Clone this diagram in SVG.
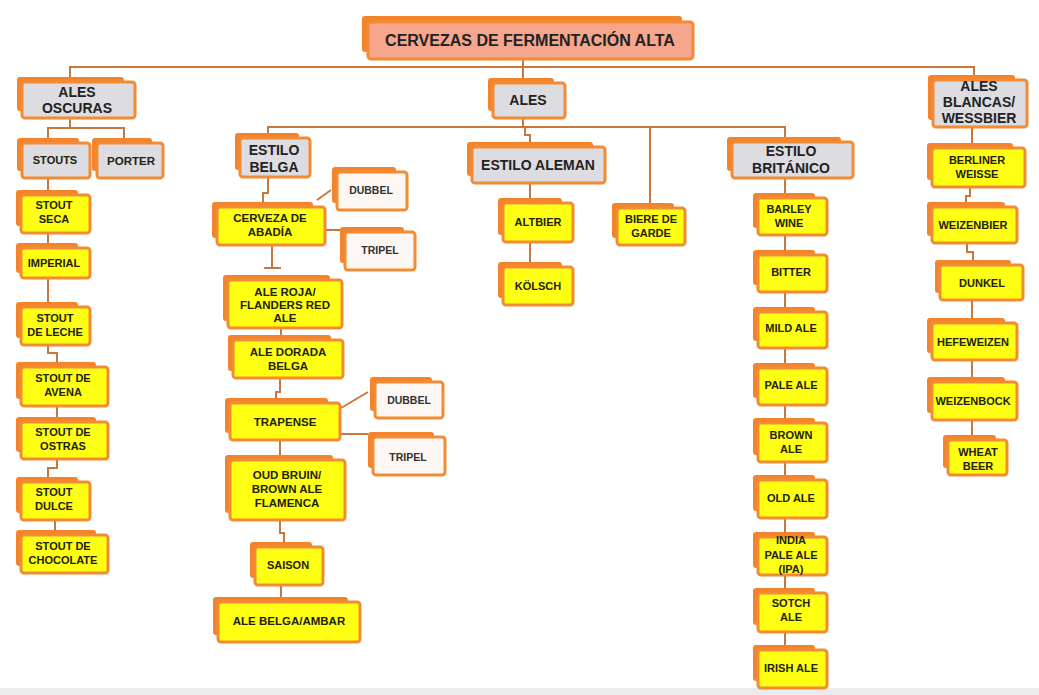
<svg xmlns="http://www.w3.org/2000/svg" width="1039" height="695" viewBox="0 0 1039 695">
<style>
.bk{fill:#f3842c}
.fr{stroke:#f28b33;stroke-width:3}
.y{fill:#ffff14}
.g{fill:#dcdce1}
.w{fill:#fcf7f2}
.ti{fill:#f5a68c}
text{font-family:"Liberation Sans",Arial,sans-serif;font-weight:bold;text-anchor:middle}
.ts{font-size:11px;fill:#22220a}
.tb{font-size:11.5px;fill:#22220a}
.tw{font-size:10.5px;fill:#333}
.tg{font-size:14px;fill:#222}
.tt{font-size:16px;fill:#222}
.c{fill:none;stroke:#c9773d;stroke-width:2}
</style>
<rect width="1039" height="695" fill="#ffffff"/>
<rect y="688" width="1039" height="7" fill="#ececec"/>
<g id="connectors" class="c">
<path d="M70,77V67H974V76M523,59V78"/>
<path d="M70,118V128M48,138V128H124V138"/>
<path d="M48,178V190M48,233V243M48,278V302M48,345V353H57V363M57,406V417M57,459V468H48V477M55,520V530"/>
<path d="M523,118V127M268,133V127H785V137M525,127V135H530V142M650,127V203"/>
<path d="M268,177V193H263V202M317,200L331,190M325,230H340M272,245V268M264,268H281M281,328V335M280,378V392H276V398M341,408L368,392M340,434H368M280,440V455M280,520V533H284V542M281,585V597"/>
<path d="M530,183V198M530,242V263"/>
<path d="M785,178V193M785,235V250M785,292V307M785,348V363M785,405V418M785,462V475M785,518V532M785,575V588M785,632V645"/>
<path d="M972,127V143M970,187V196H966V202M967,243V252H973V260M972,300V318M972,360V377M972,420V437"/>
</g>
<g id="title"><rect class="bk" x="362" y="16" width="320" height="36" rx="3"/><rect class="fr ti" x="368" y="22" width="325" height="37" rx="3"/><text class="tt" x="530" y="46">CERVEZAS DE FERMENTACIÓN ALTA</text></g>
<g id="ales-oscuras"><rect class="bk" x="17" y="77" width="107" height="34" rx="3"/><rect class="fr g" x="22" y="82" width="113" height="36" rx="3"/><text class="tg" x="77" y="97">ALES</text><text class="tg" x="77" y="113">OSCURAS</text></g>
<g id="stouts"><rect class="bk" x="17" y="138" width="62" height="33" rx="3"/><rect class="fr g" x="22" y="143" width="68" height="35" rx="3"/><text class="ts" x="55" y="164">STOUTS</text></g>
<g id="porter"><rect class="bk" x="92" y="138" width="60" height="33" rx="3"/><rect class="fr g" x="97" y="143" width="66" height="35" rx="3"/><text class="tb" x="131" y="165">PORTER</text></g>
<g id="stout-seca"><rect class="bk" x="16" y="190" width="62" height="36" rx="3"/><rect class="fr y" x="21" y="195" width="69" height="38" rx="3"/><text class="ts" x="54" y="209">STOUT</text><text class="ts" x="54" y="223">SECA</text></g>
<g id="imperial"><rect class="bk" x="16" y="243" width="62" height="30" rx="3"/><rect class="fr y" x="21" y="248" width="69" height="30" rx="3"/><text class="ts" x="54" y="267">IMPERIAL</text></g>
<g id="stout-leche"><rect class="bk" x="16" y="302" width="62" height="36" rx="3"/><rect class="fr y" x="21" y="307" width="69" height="38" rx="3"/><text class="ts" x="55" y="322">STOUT</text><text class="ts" x="55" y="336">DE LECHE</text></g>
<g id="stout-avena"><rect class="bk" x="16" y="362" width="80" height="37" rx="3"/><rect class="fr y" x="21" y="367" width="87" height="39" rx="3"/><text class="ts" x="63" y="382">STOUT DE</text><text class="ts" x="63" y="396">AVENA</text></g>
<g id="stout-ostras"><rect class="bk" x="16" y="417" width="80" height="35" rx="3"/><rect class="fr y" x="21" y="422" width="87" height="37" rx="3"/><text class="ts" x="63" y="436">STOUT DE</text><text class="ts" x="63" y="450">OSTRAS</text></g>
<g id="stout-dulce"><rect class="bk" x="16" y="477" width="62" height="36" rx="3"/><rect class="fr y" x="21" y="482" width="69" height="38" rx="3"/><text class="ts" x="54" y="496">STOUT</text><text class="ts" x="54" y="510">DULCE</text></g>
<g id="stout-chocolate"><rect class="bk" x="16" y="530" width="80" height="36" rx="3"/><rect class="fr y" x="21" y="535" width="87" height="38" rx="3"/><text class="ts" x="63" y="550">STOUT DE</text><text class="ts" x="63" y="564">CHOCOLATE</text></g>
<g id="ales"><rect class="bk" x="488" y="78" width="66" height="33" rx="3"/><rect class="fr g" x="493" y="83" width="72" height="35" rx="3"/><text class="tg" x="528" y="105">ALES</text></g>
<g id="estilo-belga"><rect class="bk" x="235" y="133" width="64" height="37" rx="3"/><rect class="fr g" x="240" y="138" width="70" height="39" rx="3"/><text class="tg" x="274" y="155">ESTILO</text><text class="tg" x="274" y="172">BELGA</text></g>
<g id="cerveza-abadia"><rect class="bk" x="212" y="202" width="101" height="36" rx="3"/><rect class="fr y" x="217" y="207" width="108" height="38" rx="3"/><text class="tb" x="270" y="222">CERVEZA DE</text><text class="tb" x="270" y="236">ABADÍA</text></g>
<g id="dubbel-1"><rect class="bk" x="332" y="167" width="64" height="36" rx="3"/><rect class="fr w" x="337" y="172" width="70" height="38" rx="3"/><text class="tw" x="371" y="194">DUBBEL</text></g>
<g id="tripel-1"><rect class="bk" x="340" y="227" width="64" height="36" rx="3"/><rect class="fr w" x="345" y="232" width="70" height="38" rx="3"/><text class="tw" x="380" y="254">TRIPEL</text></g>
<g id="ale-roja"><rect class="bk" x="223" y="275" width="107" height="46" rx="3"/><rect class="fr y" x="228" y="280" width="114" height="48" rx="3"/><text class="tb" x="285" y="296">ALE ROJA/</text><text class="tb" x="285" y="309">FLANDERS RED</text><text class="tb" x="285" y="322">ALE</text></g>
<g id="ale-dorada"><rect class="bk" x="228" y="335" width="103" height="36" rx="3"/><rect class="fr y" x="233" y="340" width="110" height="38" rx="3"/><text class="tb" x="288" y="356">ALE DORADA</text><text class="tb" x="288" y="370">BELGA</text></g>
<g id="trapense"><rect class="bk" x="225" y="398" width="103" height="35" rx="3"/><rect class="fr y" x="230" y="403" width="110" height="37" rx="3"/><text class="tb" x="285" y="426">TRAPENSE</text></g>
<g id="dubbel-2"><rect class="bk" x="370" y="377" width="62" height="34" rx="3"/><rect class="fr w" x="375" y="382" width="68" height="36" rx="3"/><text class="tw" x="409" y="404">DUBBEL</text></g>
<g id="tripel-2"><rect class="bk" x="368" y="432" width="66" height="36" rx="3"/><rect class="fr w" x="373" y="437" width="72" height="38" rx="3"/><text class="tw" x="408" y="461">TRIPEL</text></g>
<g id="oud-bruin"><rect class="bk" x="225" y="455" width="108" height="58" rx="3"/><rect class="fr y" x="230" y="460" width="115" height="60" rx="3"/><text class="tb" x="287" y="479">OUD BRUIN/</text><text class="tb" x="287" y="493">BROWN ALE</text><text class="tb" x="287" y="507">FLAMENCA</text></g>
<g id="saison"><rect class="bk" x="250" y="542" width="62" height="36" rx="3"/><rect class="fr y" x="255" y="547" width="68" height="38" rx="3"/><text class="ts" x="288" y="569">SAISON</text></g>
<g id="ale-belga-ambar"><rect class="bk" x="213" y="597" width="135" height="38" rx="3"/><rect class="fr y" x="218" y="602" width="142" height="40" rx="3"/><text class="tb" x="289" y="625">ALE BELGA/AMBAR</text></g>
<g id="estilo-aleman"><rect class="bk" x="467" y="142" width="126" height="34" rx="3"/><rect class="fr g" x="472" y="147" width="133" height="36" rx="3"/><text class="tg" x="538" y="170">ESTILO ALEMAN</text></g>
<g id="altbier"><rect class="bk" x="498" y="198" width="64" height="37" rx="3"/><rect class="fr y" x="503" y="203" width="70" height="39" rx="3"/><text class="ts" x="538" y="226">ALTBIER</text></g>
<g id="kolsch"><rect class="bk" x="498" y="262" width="64" height="36" rx="3"/><rect class="fr y" x="503" y="267" width="70" height="38" rx="3"/><text class="ts" x="538" y="290">KÖLSCH</text></g>
<g id="biere-de-garde"><rect class="bk" x="612" y="203" width="62" height="35" rx="3"/><rect class="fr y" x="617" y="208" width="68" height="37" rx="3"/><text class="ts" x="651" y="223">BIERE DE</text><text class="ts" x="651" y="237">GARDE</text></g>
<g id="estilo-britanico"><rect class="bk" x="727" y="137" width="114" height="34" rx="3"/><rect class="fr g" x="732" y="142" width="121" height="36" rx="3"/><text class="tg" x="791" y="156">ESTILO</text><text class="tg" x="791" y="173">BRITÁNICO</text></g>
<g id="barley-wine"><rect class="bk" x="753" y="193" width="62" height="35" rx="3"/><rect class="fr y" x="758" y="198" width="69" height="37" rx="3"/><text class="ts" x="789" y="213">BARLEY</text><text class="ts" x="789" y="227">WINE</text></g>
<g id="bitter"><rect class="bk" x="753" y="250" width="62" height="35" rx="3"/><rect class="fr y" x="758" y="255" width="69" height="37" rx="3"/><text class="ts" x="791" y="276">BITTER</text></g>
<g id="mild-ale"><rect class="bk" x="753" y="307" width="62" height="34" rx="3"/><rect class="fr y" x="758" y="312" width="69" height="36" rx="3"/><text class="ts" x="791" y="332">MILD ALE</text></g>
<g id="pale-ale"><rect class="bk" x="753" y="363" width="62" height="35" rx="3"/><rect class="fr y" x="758" y="368" width="69" height="37" rx="3"/><text class="ts" x="791" y="389">PALE ALE</text></g>
<g id="brown-ale"><rect class="bk" x="753" y="418" width="62" height="37" rx="3"/><rect class="fr y" x="758" y="423" width="69" height="39" rx="3"/><text class="ts" x="791" y="439">BROWN</text><text class="ts" x="791" y="453">ALE</text></g>
<g id="old-ale"><rect class="bk" x="753" y="475" width="62" height="36" rx="3"/><rect class="fr y" x="758" y="480" width="69" height="38" rx="3"/><text class="ts" x="791" y="502">OLD ALE</text></g>
<g id="ipa"><rect class="bk" x="753" y="532" width="62" height="36" rx="3"/><rect class="fr y" x="758" y="537" width="69" height="38" rx="3"/><text class="ts" x="791" y="544">INDIA</text><text class="ts" x="791" y="559">PALE ALE</text><text class="ts" x="791" y="573">(IPA)</text></g>
<g id="sotch-ale"><rect class="bk" x="753" y="588" width="62" height="37" rx="3"/><rect class="fr y" x="758" y="593" width="69" height="39" rx="3"/><text class="ts" x="791" y="607">SOTCH</text><text class="ts" x="791" y="621">ALE</text></g>
<g id="irish-ale"><rect class="bk" x="753" y="645" width="62" height="36" rx="3"/><rect class="fr y" x="758" y="650" width="69" height="38" rx="3"/><text class="ts" x="791" y="672">IRISH ALE</text></g>
<g id="ales-blancas"><rect class="bk" x="928" y="75" width="87" height="45" rx="3"/><rect class="fr g" x="933" y="80" width="94" height="47" rx="3"/><text class="tg" x="979" y="91">ALES</text><text class="tg" x="979" y="107">BLANCAS/</text><text class="tg" x="979" y="123">WESSBIER</text></g>
<g id="berliner-weisse"><rect class="bk" x="927" y="143" width="86" height="37" rx="3"/><rect class="fr y" x="932" y="148" width="93" height="39" rx="3"/><text class="ts" x="977" y="164">BERLINER</text><text class="ts" x="977" y="178">WEISSE</text></g>
<g id="weizenbier"><rect class="bk" x="927" y="202" width="78" height="34" rx="3"/><rect class="fr y" x="932" y="207" width="85" height="36" rx="3"/><text class="ts" x="973" y="229">WEIZENBIER</text></g>
<g id="dunkel"><rect class="bk" x="935" y="260" width="76" height="33" rx="3"/><rect class="fr y" x="940" y="265" width="83" height="35" rx="3"/><text class="ts" x="982" y="287">DUNKEL</text></g>
<g id="hefeweizen"><rect class="bk" x="927" y="318" width="78" height="35" rx="3"/><rect class="fr y" x="932" y="323" width="85" height="37" rx="3"/><text class="ts" x="973" y="346">HEFEWEIZEN</text></g>
<g id="weizenbock"><rect class="bk" x="927" y="377" width="78" height="36" rx="3"/><rect class="fr y" x="932" y="382" width="85" height="38" rx="3"/><text class="ts" x="973" y="405">WEIZENBOCK</text></g>
<g id="wheat-beer"><rect class="bk" x="943" y="435" width="53" height="33" rx="3"/><rect class="fr y" x="948" y="440" width="59" height="35" rx="3"/><text class="ts" x="978" y="456">WHEAT</text><text class="ts" x="978" y="470">BEER</text></g>
</svg>
